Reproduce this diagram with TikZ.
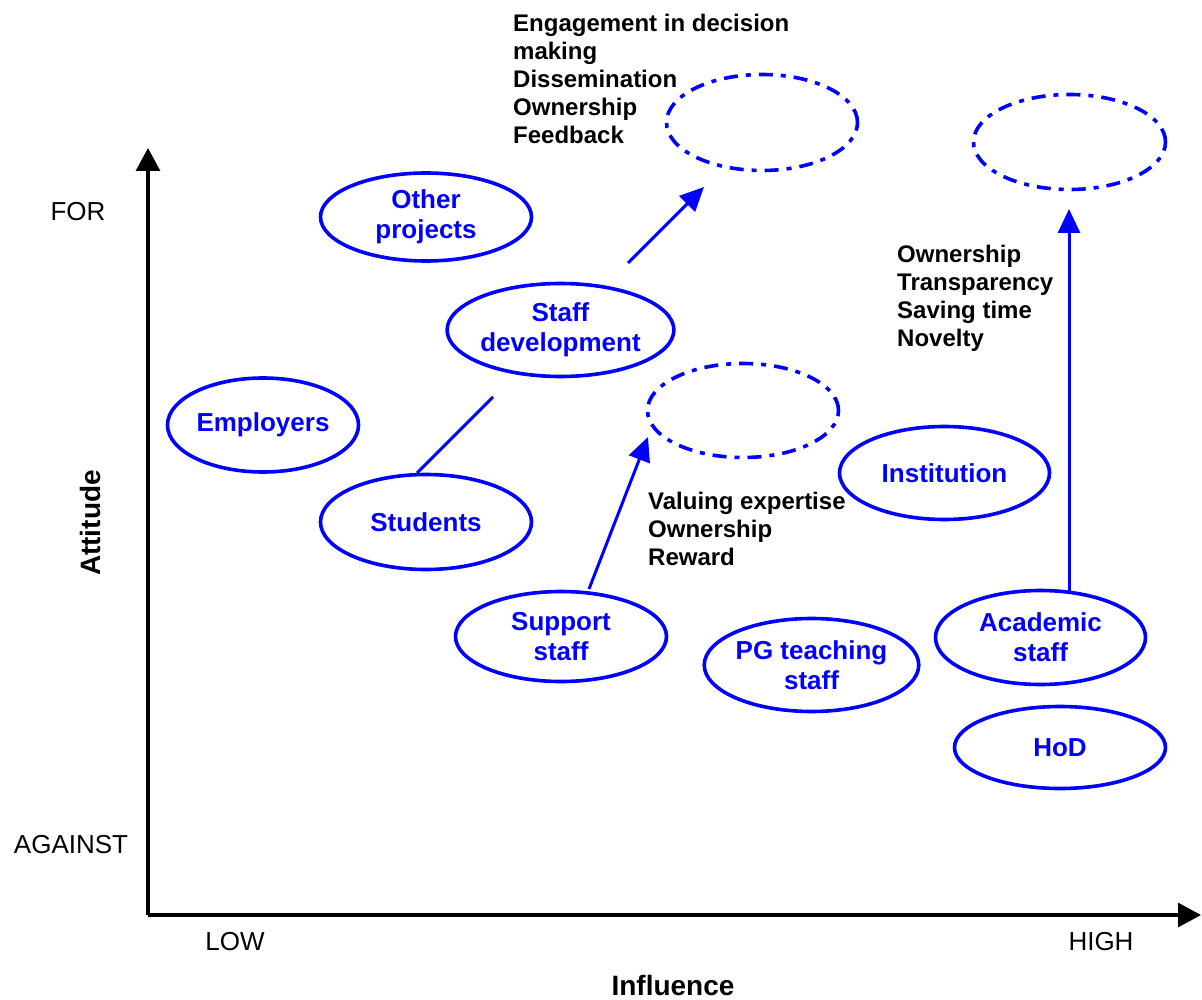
\documentclass[tikz,border=0pt]{standalone}
\usepackage{fontspec}
\setmainfont{Liberation Sans}
\usetikzlibrary{shapes.geometric,arrows.meta}
\definecolor{sblue}{RGB}{0,0,255}
\begin{document}
\begin{tikzpicture}[x=1pt,y=-1pt,
 stake/.style={ellipse,draw=sblue,line width=3.6pt,inner sep=0pt,text=sblue,font=\fontsize{26}{30}\selectfont\bfseries,align=center},
 goal/.style={ellipse,draw=sblue,line width=3.6pt,dash pattern=on 14pt off 8pt on 5pt off 8pt,inner sep=0pt},
 note/.style={anchor=north west,inner sep=0pt,align=left,font=\fontsize{24}{28}\selectfont\bfseries},
 axislabel/.style={inner sep=0pt,font=\fontsize{26}{30}\selectfont},
 axistitle/.style={inner sep=0pt,font=\fontsize{28}{32}\selectfont\bfseries},
 axisline/.style={line width=3.2pt,-{Triangle[length=23pt,width=24pt]}},
 link/.style={draw=sblue,line width=3pt},
 linkarrow/.style={link,-{Triangle[length=24pt,width=22pt]}}
]
\useasboundingbox (0,0) rectangle (1202,1000);

% axes
\coordinate (origin) at (148,915);
\coordinate (ytip) at (148,148);
\coordinate (xtip) at (1201,915);
\draw[axisline] (origin) -- (ytip);
\draw[axisline] (origin) -- (xtip);

\node[axislabel] (for) at (78,212) {FOR};
\node[axislabel] (against) at (71,845) {AGAINST};
\node[axislabel] (low) at (235,942) {LOW};
\node[axislabel] (high) at (1101,942) {HIGH};
\node[axistitle] (influence) at (673,985) {Influence};
\node[axistitle,rotate=90] (attitude) at (90,523) {Attitude};

% stakeholders
\node[stake,minimum width=211pt,minimum height=88pt] (other) at (426,217) {Other\\projects};
\node[stake,minimum width=210pt,minimum height=93pt] (staffdev) at (560.5,330) {Staff\\development};
\node[stake,minimum width=191pt,minimum height=94pt] (employers) at (263,425) {Employers};
\node[stake,minimum width=211pt,minimum height=95pt] (students) at (426,522) {Students};
\node[stake,minimum width=211pt,minimum height=90pt] (support) at (561,636.5) {Support\\staff};
\node[stake,minimum width=208pt,minimum height=93pt] (pg) at (811.5,665) {PG teaching\\staff};
\node[stake,minimum width=210pt,minimum height=93pt] (institution) at (944.5,473) {Institution};
\node[stake,minimum width=210pt,minimum height=94pt] (academic) at (1040.5,637.5) {Academic\\staff};
\node[stake,minimum width=211pt,minimum height=82pt] (hod) at (1060,747.5) {HoD};

% target positions
\node[goal,minimum width=191pt,minimum height=96pt] (goal1) at (762,122.5) {};
\node[goal,minimum width=192pt,minimum height=95pt] (goal2) at (1069.5,142) {};
\node[goal,minimum width=191pt,minimum height=94pt] (goal3) at (743,410.5) {};

% notes
\node[note] (note1) at (513,14) {Engagement in decision\\making\\Dissemination\\Ownership\\Feedback};
\node[note] (note2) at (897,245) {Ownership\\Transparency\\Saving time\\Novelty};
\node[note] (note3) at (648,492) {Valuing expertise\\Ownership\\Reward};

% connectors
\coordinate (sdtail) at (628,263);
\coordinate (sdtip) at (704,187);
\coordinate (stfoot) at (417,473);
\coordinate (stend) at (493,397);
\coordinate (sptail) at (589,589);
\coordinate (sptip) at (648,437);
\coordinate (actail) at (1069,591);
\coordinate (actip) at (1069,209);
\draw[linkarrow] (sdtail) -- (sdtip);
\draw[link] (stfoot) -- (stend);
\draw[linkarrow] (sptail) -- (sptip);
\draw[linkarrow] (actail) -- (actip);
\end{tikzpicture}
\end{document}
